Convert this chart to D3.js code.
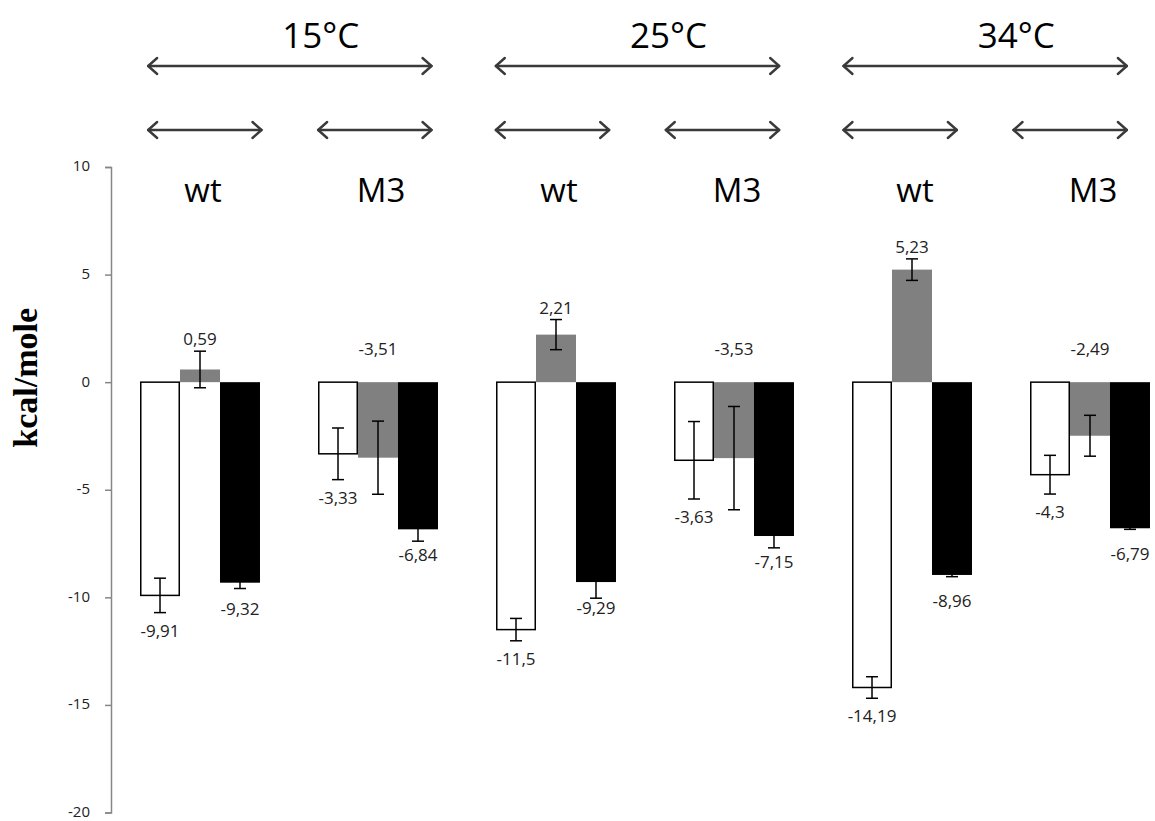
<!DOCTYPE html>
<html>
<head>
<meta charset="utf-8">
<script src="https://cdn.jsdelivr.net/npm/d3@7"></script>
<style>
  html, body { margin: 0; padding: 0; background: #fff; }
  svg { display: block; }
</style>
</head>
<body>
<script>
// ---- data ----
const groups = ["15°C wt", "15°C M3", "25°C wt", "25°C M3", "34°C wt", "34°C M3"];
const groupLabels = ["wt", "M3", "wt", "M3", "wt", "M3"];
const temperatures = ["15°C", "25°C", "34°C"];
const seriesNames = ["dH", "mTdS", "dG"];
const dH   = [-9.91, -3.33, -11.5, -3.63, -14.19, -4.3];
const mTdS = [0.59, -3.51, 2.21, -3.53, 5.23, -2.49];
const dG   = [-9.32, -6.84, -9.29, -7.15, -8.96, -6.79];
const dHErr   = [0.8, 1.2, 0.52, 1.8, 0.5, 0.9];
const mTdSErr = [0.85, 1.7, 0.7, 2.4, 0.5, 0.95];
const dGErr   = [0.27, 0.55, 0.75, 0.55, 0.08, 0.05];
const yTicks = [10, 5, 0, -5, -10, -15, -20];
const yTitle = "kcal/mole";

// ---- layout ----
const W = 1155, H = 821;
const seriesValues = [dH, mTdS, dG];
const seriesErrs = [dHErr, mTdSErr, dGErr];
const fills = ["#ffffff", "#808080", "#000000"];

const svg = d3.select("body").append("svg").attr("width", W).attr("height", H);

const y = d3.scaleLinear().domain([-20, 10]).range([812.5, 167]);
const x0 = d3.scaleBand().domain(groups).range([111, 1179]).paddingInner(0.326).paddingOuter(0.163);
const x1 = d3.scaleBand().domain(seriesNames).range([0, x0.bandwidth()]);
// annotation scale for the temperature brackets
const xt = d3.scaleBand().domain(temperatures).range([116, 1159]).paddingInner(0.185).paddingOuter(0.0925);

// y axis
const yAxis = d3.axisLeft(y).tickValues(yTicks).tickSize(6).tickPadding(15).tickFormat(d => String(d));
const ga = svg.append("g").attr("transform", "translate(111,0)").call(yAxis);
ga.select(".domain").attr("stroke", "#868686").attr("stroke-width", 1.5);
ga.selectAll(".tick line").attr("stroke", "#868686").attr("stroke-width", 1.5);
ga.selectAll(".tick text").attr("font-family", "'Open Sans', sans-serif").attr("font-size", 15)
  .attr("dy", "0.26em").attr("fill", "#222");

// y title
svg.append("text")
  .attr("transform", `translate(37,${y(0.2)}) rotate(-90)`)
  .attr("text-anchor", "middle")
  .attr("font-family", "'Liberation Serif', serif")
  .attr("font-weight", "bold")
  .attr("font-size", 34)
  .attr("fill", "#000")
  .text(yTitle);

// data
const rows = [];
groups.forEach((g, gi) => {
  seriesNames.forEach((s, si) => {
    rows.push({ g, gi, s, si, v: seriesValues[si][gi], e: seriesErrs[si][gi] });
  });
});

const bars = svg.append("g");
bars.selectAll("rect").data(rows).join("rect")
  .attr("x", d => x0(d.g) + x1(d.s) + (d.si === 0 ? 0.75 : 0))
  .attr("width", d => x1.bandwidth() - (d.si === 0 ? 1.5 : 0))
  .attr("y", d => y(Math.max(0, d.v)))
  .attr("height", d => Math.abs(y(d.v) - y(0)))
  .attr("fill", d => fills[d.si])
  .attr("stroke", d => d.si === 0 ? "#000" : "none")
  .attr("stroke-width", 1.5);

// error bars
const eb = svg.append("g").attr("stroke", "#000").attr("stroke-width", 1.5);
rows.forEach(d => {
  const cx = x0(d.g) + x1(d.s) + x1.bandwidth() / 2;
  const yt = y(d.v + d.e), yb = y(d.v - d.e);
  eb.append("line").attr("x1", cx).attr("x2", cx).attr("y1", yt).attr("y2", yb);
  eb.append("line").attr("x1", cx - 6).attr("x2", cx + 6).attr("y1", yt).attr("y2", yt);
  eb.append("line").attr("x1", cx - 6).attr("x2", cx + 6).attr("y1", yb).attr("y2", yb);
});

// data labels
const fmt = v => String(v).replace(".", ",");
svg.append("g").selectAll("text").data(rows).join("text")
  .attr("x", d => x0(d.g) + x1(d.s) + x1.bandwidth() / 2)
  .attr("y", d => {
    if (d.si === 0) return y(d.v - d.e) + 18;
    if (d.si === 2) return y(d.v) + 26;
    return d.v >= 0 ? y(d.v + d.e) - 12 : y(0) - 33;
  })
  .attr("dy", "0.35em")
  .attr("text-anchor", "middle")
  .attr("font-family", "'Open Sans', sans-serif")
  .attr("font-size", 17)
  .attr("fill", "#222")
  .text(d => fmt(d.v));

// group labels
svg.append("g").selectAll("text").data(groups).join("text")
  .attr("x", g => x0(g) + x0.bandwidth() / 2 + 3)
  .attr("y", 202)
  .attr("text-anchor", "middle")
  .attr("font-family", "'Open Sans', sans-serif")
  .attr("font-size", 33)
  .attr("fill", "#000")
  .text((g, i) => groupLabels[i]);

// arrows
const arrowColor = "#3a3a3a";
function arrow(xa, xb, yy) {
  const g = svg.append("g").attr("stroke", arrowColor).attr("fill", "none").attr("stroke-width", 2.4)
    .attr("stroke-linecap", "round").attr("stroke-linejoin", "round");
  g.append("line").attr("x1", xa).attr("x2", xb).attr("y1", yy).attr("y2", yy);
  g.append("path").attr("d", `M${xa + 9},${yy - 8} L${xa},${yy} L${xa + 9},${yy + 8}`);
  g.append("path").attr("d", `M${xb - 9},${yy - 8} L${xb},${yy} L${xb - 9},${yy + 8}`);
}
temperatures.forEach((t, i) => {
  const L = xt(t), R = xt(t) + xt.bandwidth(), c = (L + R) / 2;
  arrow(L, R, 66);
  const shortLen = xt.bandwidth() * 0.4;
  arrow(L, L + shortLen, 130);
  arrow(R - shortLen, R, 130);
  svg.append("text")
    .attr("x", c + 31).attr("y", 48)
    .attr("text-anchor", "middle")
    .attr("font-family", "'Open Sans', sans-serif")
    .attr("font-size", 35)
    .attr("fill", "#000")
    .text(t);
});
</script>
</body>
</html>
